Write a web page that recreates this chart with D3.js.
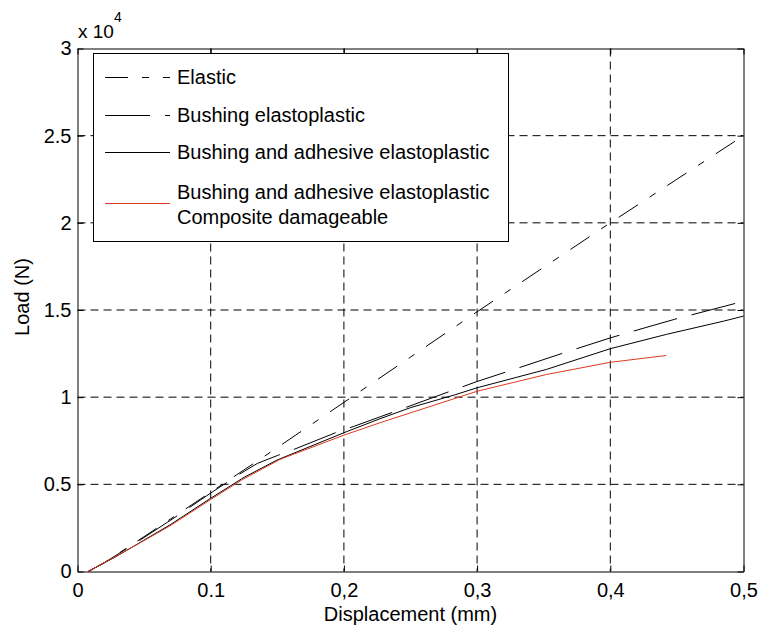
<!DOCTYPE html>
<html>
<head>
<meta charset="utf-8">
<script src="https://cdn.jsdelivr.net/npm/d3@7"></script>
<style>
  body { margin: 0; background: #fff; }
  svg text { font-family: "Liberation Sans", Arial, sans-serif; fill: #000; }
</style>
</head>
<body>
<div id="chart"></div>
<script>
// load in units of 10^4 N, displacement in mm
var elasticX = [0.008, 0.02, 0.05, 0.1, 0.146, 0.2, 0.25, 0.3, 0.35, 0.4, 0.45, 0.5]
var elasticY = [0, 0.05, 0.2, 0.455, 0.69, 0.97, 1.23, 1.49, 1.745, 2.0, 2.25, 2.5]

var bushingX = [0.008, 0.02, 0.045, 0.075, 0.1, 0.122, 0.135, 0.15, 0.164, 0.195, 0.208, 0.239, 0.282, 0.3, 0.326, 0.369, 0.4, 0.426, 0.448, 0.5]
var bushingY = [0, 0.05, 0.17, 0.32, 0.45, 0.56, 0.62, 0.665, 0.705, 0.80, 0.834, 0.92, 1.04, 1.09, 1.155, 1.264, 1.34, 1.398, 1.446, 1.55]

var adhesiveX = [0.008, 0.03, 0.07, 0.1, 0.125, 0.15, 0.2, 0.227, 0.25, 0.284, 0.3, 0.352, 0.4, 0.442, 0.485, 0.5]
var adhesiveY = [0, 0.09, 0.27, 0.42, 0.54, 0.64, 0.796, 0.876, 0.94, 1.015, 1.054, 1.159, 1.278, 1.36, 1.436, 1.465]

var damageX = [0.008, 0.032, 0.069, 0.1, 0.124, 0.152, 0.2, 0.227, 0.25, 0.3, 0.352, 0.4, 0.442]
var damageY = [0, 0.1, 0.26, 0.413, 0.528, 0.643, 0.782, 0.853, 0.91, 1.034, 1.13, 1.2, 1.239]

var xTicks = [0, 0.1, 0.2, 0.3, 0.4, 0.5]
var xTickLabels = ['0', '0.1', '0,2', '0,3', '0,4', '0,5']
var yTicks = [0, 0.5, 1, 1.5, 2, 2.5, 3]
var yTickLabels = ['0', '0.5', '1', '1.5', '2', '2.5', '3']

var legendLabels = [
  ['Elastic'],
  ['Bushing elastoplastic'],
  ['Bushing and adhesive elastoplastic'],
  ['Bushing and adhesive elastoplastic', 'Composite damageable'],
]

var series = [
  {xs: elasticX, ys: elasticY, color: '#000', dash: '23,14,7,14'},
  {xs: bushingX, ys: bushingY, color: '#000', dash: '45,15'},
  {xs: adhesiveX, ys: adhesiveY, color: '#000', dash: null},
  {xs: damageX, ys: damageY, color: '#dc3a1c', dash: null},
]

var width = 761, height = 630
var pLeft = 77.5, pRight = 743.5, pTop = 48.5, pBottom = 571.5
var fs = 20

var svg = d3.select('#chart').append('svg')
  .attr('width', width).attr('height', height)

var x = d3.scaleLinear().domain([0, 0.5]).range([pLeft, pRight])
var y = d3.scaleLinear().domain([0, 3]).range([pBottom, pTop])

// grid
var grid = svg.append('g')
grid.selectAll('line.gx').data(xTicks.slice(1, -1)).join('line')
  .attr('x1', d => x(d)).attr('x2', d => x(d))
  .attr('y1', pTop).attr('y2', pBottom)
  .attr('stroke', '#000').attr('stroke-dasharray', '8,5').attr('stroke-width', 1)
grid.selectAll('line.gy').data(yTicks.slice(1, -1)).join('line')
  .attr('y1', d => y(d)).attr('y2', d => y(d))
  .attr('x1', pLeft).attr('x2', pRight)
  .attr('stroke', '#000').attr('stroke-dasharray', '8,5').attr('stroke-width', 1)

// axes, ticks inward on all four sides
var xAxis = d3.axisBottom(x).tickValues(xTicks).tickSize(-6).tickSizeOuter(0).tickPadding(11)
  .tickFormat((d, i) => xTickLabels[i])
var yAxis = d3.axisLeft(y).tickValues(yTicks).tickSize(-6).tickSizeOuter(0).tickPadding(6)
  .tickFormat((d, i) => yTickLabels[i])

svg.append('g').attr('transform', `translate(0,${pBottom})`).call(xAxis)
svg.append('g').attr('transform', `translate(${pLeft},0)`).call(yAxis)
svg.append('g').attr('transform', `translate(0,${pTop})`)
  .call(d3.axisTop(x).tickValues(xTicks).tickSize(-6).tickSizeOuter(0).tickFormat(''))
svg.append('g').attr('transform', `translate(${pRight},0)`)
  .call(d3.axisRight(y).tickValues(yTicks).tickSize(-6).tickSizeOuter(0).tickFormat(''))

svg.selectAll('.domain, .tick line').attr('stroke', '#000').attr('stroke-width', 1)
svg.selectAll('.tick text').attr('font-size', fs).attr('font-family', null)

// curves
var line = d3.line().x(d => x(d[0])).y(d => y(d[1]))
series.forEach(s => {
  svg.append('path')
    .datum(s.xs.map((v, i) => [v, s.ys[i]]))
    .attr('d', line)
    .attr('fill', 'none')
    .attr('stroke', s.color)
    .attr('stroke-width', 1)
    .attr('stroke-dasharray', s.dash)
})

// exponent label
var expo = svg.append('text').attr('x', 78).attr('y', 38).attr('font-size', fs - 1)
expo.append('tspan').text('x 10')
expo.append('tspan').attr('dy', -16).attr('font-size', 14).text('4')

// axis labels
svg.append('text')
  .attr('x', (pLeft + pRight) / 2).attr('y', 621)
  .attr('text-anchor', 'middle').attr('font-size', fs)
  .text('Displacement (mm)')
svg.append('text')
  .attr('transform', 'translate(29,297) rotate(-90)')
  .attr('text-anchor', 'middle').attr('font-size', fs)
  .text('Load (N)')

// legend
var lg = svg.append('g')
lg.append('rect')
  .attr('x', 93.5).attr('y', 53.5).attr('width', 415).attr('height', 188)
  .attr('fill', '#fff').attr('stroke', '#000').attr('stroke-width', 1)

var rowY = [77, 115, 152, 203]
legendLabels.forEach((labels, i) => {
  var s = series[i]
  lg.append('line')
    .attr('x1', 105).attr('x2', 170)
    .attr('y1', rowY[i] + 0.5).attr('y2', rowY[i] + 0.5)
    .attr('stroke', s.color).attr('stroke-width', 1)
    .attr('stroke-dasharray', s.dash)
  var t = lg.append('text').attr('x', 177).attr('font-size', fs)
  labels.forEach((l, j) => {
    var cy = labels.length == 1 ? rowY[i] : rowY[i] - 11 + j * 25
    t.append('tspan').attr('x', 177).attr('y', cy).attr('dy', '0.35em').text(l)
  })
})
</script>
</body>
</html>
